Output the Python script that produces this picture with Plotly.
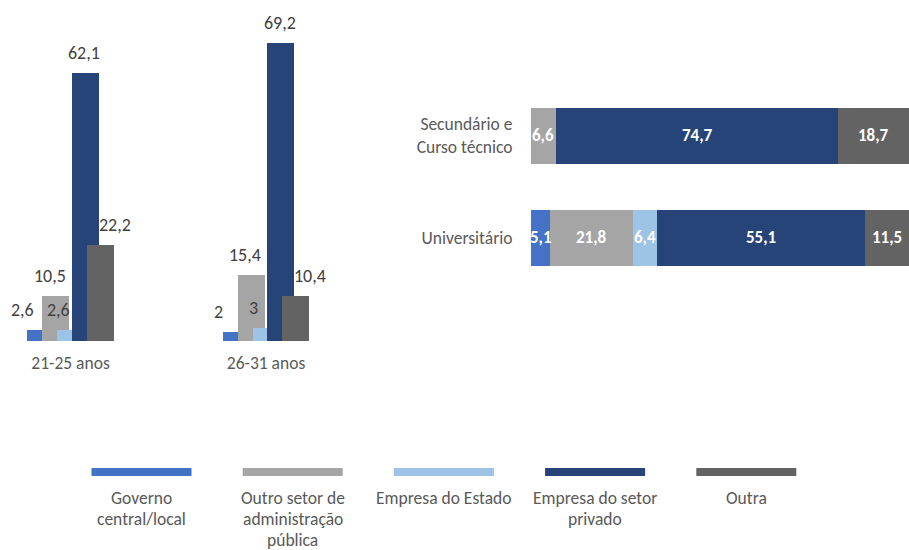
import plotly.graph_objects as go

# ---------------- data ----------------
series = ["Governo<br>central/local", "Outro setor de<br>administração<br>pública",
          "Empresa do Estado", "Empresa do setor<br>privado", "Outra"]
colors = ["#4472C4", "#A5A5A5", "#9DC3E6", "#264478", "#636363"]

age_groups = ["21-25 anos", "26-31 anos"]
age_values = [
    [2.6, 2.0],    # Governo central/local
    [10.5, 15.4],  # Outro setor de administração pública
    [2.6, 3.0],    # Empresa do Estado
    [62.1, 69.2],  # Empresa do setor privado
    [22.2, 10.4],  # Outra
]

edu_groups = ["Secundário e<br>Curso técnico", "Universitário"]
edu_values = [
    [0.0, 5.1],
    [6.6, 21.8],
    [0.0, 6.4],
    [74.7, 55.1],
    [18.7, 11.5],
]

# ---------------- layout helpers ----------------
W, H = 909, 550
FONT = "Carlito, Calibri, Lato, sans-serif"
def px(x):
    return x / W
def py(y):
    return 1 - y / H

fmt = lambda v: f"{v:g}".replace(".", ",")

cat_px = 195.5
bar_w = 27 / cat_px
step = 14.8 / cat_px
label_shift = [-18, -6, -12.5, -1, 14.5]

fig = go.Figure()
annotations = []

# left panel: overlapping clustered bars
for k, name in enumerate(series):
    off_c = (k - 2) * step
    fig.add_trace(go.Bar(
        x=age_groups, y=age_values[k], name=name,
        marker=dict(color=colors[k], line=dict(width=0)),
        width=bar_w, offset=off_c - bar_w / 2,
        xaxis="x", yaxis="y", showlegend=False, hoverinfo="skip"))
    for i, v in enumerate(age_values[k]):
        annotations.append(dict(
            x=i + off_c, y=v, xref="x", yref="y", text=fmt(v), showarrow=False,
            xanchor="center", yanchor="bottom", xshift=label_shift[k], yshift=7,
            font=dict(family=FONT, size=18, color="#404040")))

# right panel: stacked horizontal bars (manual base)
for k, name in enumerate(series):
    bases = [sum(edu_values[j][i] for j in range(k)) for i in range(len(edu_groups))]
    fig.add_trace(go.Bar(
        y=edu_groups, x=edu_values[k], base=bases, orientation="h", name=name,
        marker=dict(color=colors[k], line=dict(width=0)), width=0.55,
        xaxis="x2", yaxis="y2", showlegend=False, hoverinfo="skip"))
    for i, v in enumerate(edu_values[k]):
        if v > 0:
            annotations.append(dict(
                x=bases[i] + v / 2, y=i, xref="x2", yref="y2", text=f"<b>{fmt(v)}</b>",
                showarrow=False, xanchor="center", yanchor="middle",
                font=dict(family=FONT, size=17, color="white")))

# custom legend: swatch above, label below
shapes = []
for k, name in enumerate(series):
    cx = 141.5 + k * 151.2
    shapes.append(dict(type="rect", xref="paper", yref="paper",
                       x0=px(cx - 50), x1=px(cx + 50), y0=py(476), y1=py(468),
                       fillcolor=colors[k], line=dict(width=0)))
    for j, line in enumerate(name.split("<br>")):
        annotations.append(dict(
            x=px(cx), y=py(498 + j * 21), xref="paper", yref="paper", text=line,
            showarrow=False, xanchor="center", yanchor="middle",
            font=dict(family=FONT, size=17.5, color="#595959")))

base_px = 341
px_per_unit = 4.313
top_px = 10

fig.update_layout(
    width=W, height=H, margin=dict(l=0, r=0, t=0, b=0),
    paper_bgcolor="white", plot_bgcolor="white",
    barmode="overlay", bargap=0,
    font=dict(family=FONT, color="#595959"),
    xaxis=dict(domain=[0, px(330)],
               range=[-70.5 / cat_px, (330 - 70.5) / cat_px],
               showgrid=False, zeroline=False, showline=False,
               ticks="outside", ticklen=6, tickcolor="rgba(0,0,0,0)",
               tickfont=dict(family=FONT, size=17.5, color="#595959"), anchor="y"),
    yaxis=dict(domain=[py(base_px), py(top_px)],
               range=[0, (base_px - top_px) / px_per_unit], visible=False),
    xaxis2=dict(domain=[px(531), 1], range=[0, 100], visible=False, anchor="y2"),
    yaxis2=dict(domain=[py(237.5 + 51), py(135.5 - 51)], range=[1.5, -0.5],
                anchor="x2", showgrid=False, zeroline=False, showline=False,
                ticks="outside", ticklen=14, tickcolor="rgba(0,0,0,0)",
                tickfont=dict(family=FONT, size=17.5, color="#595959")),
    shapes=shapes, annotations=annotations,
)

fig.write_html(
    "out.html",
    config={"displayModeBar": False},
    post_script="document.body.style.margin='0';document.body.style.overflow='hidden';",
)
